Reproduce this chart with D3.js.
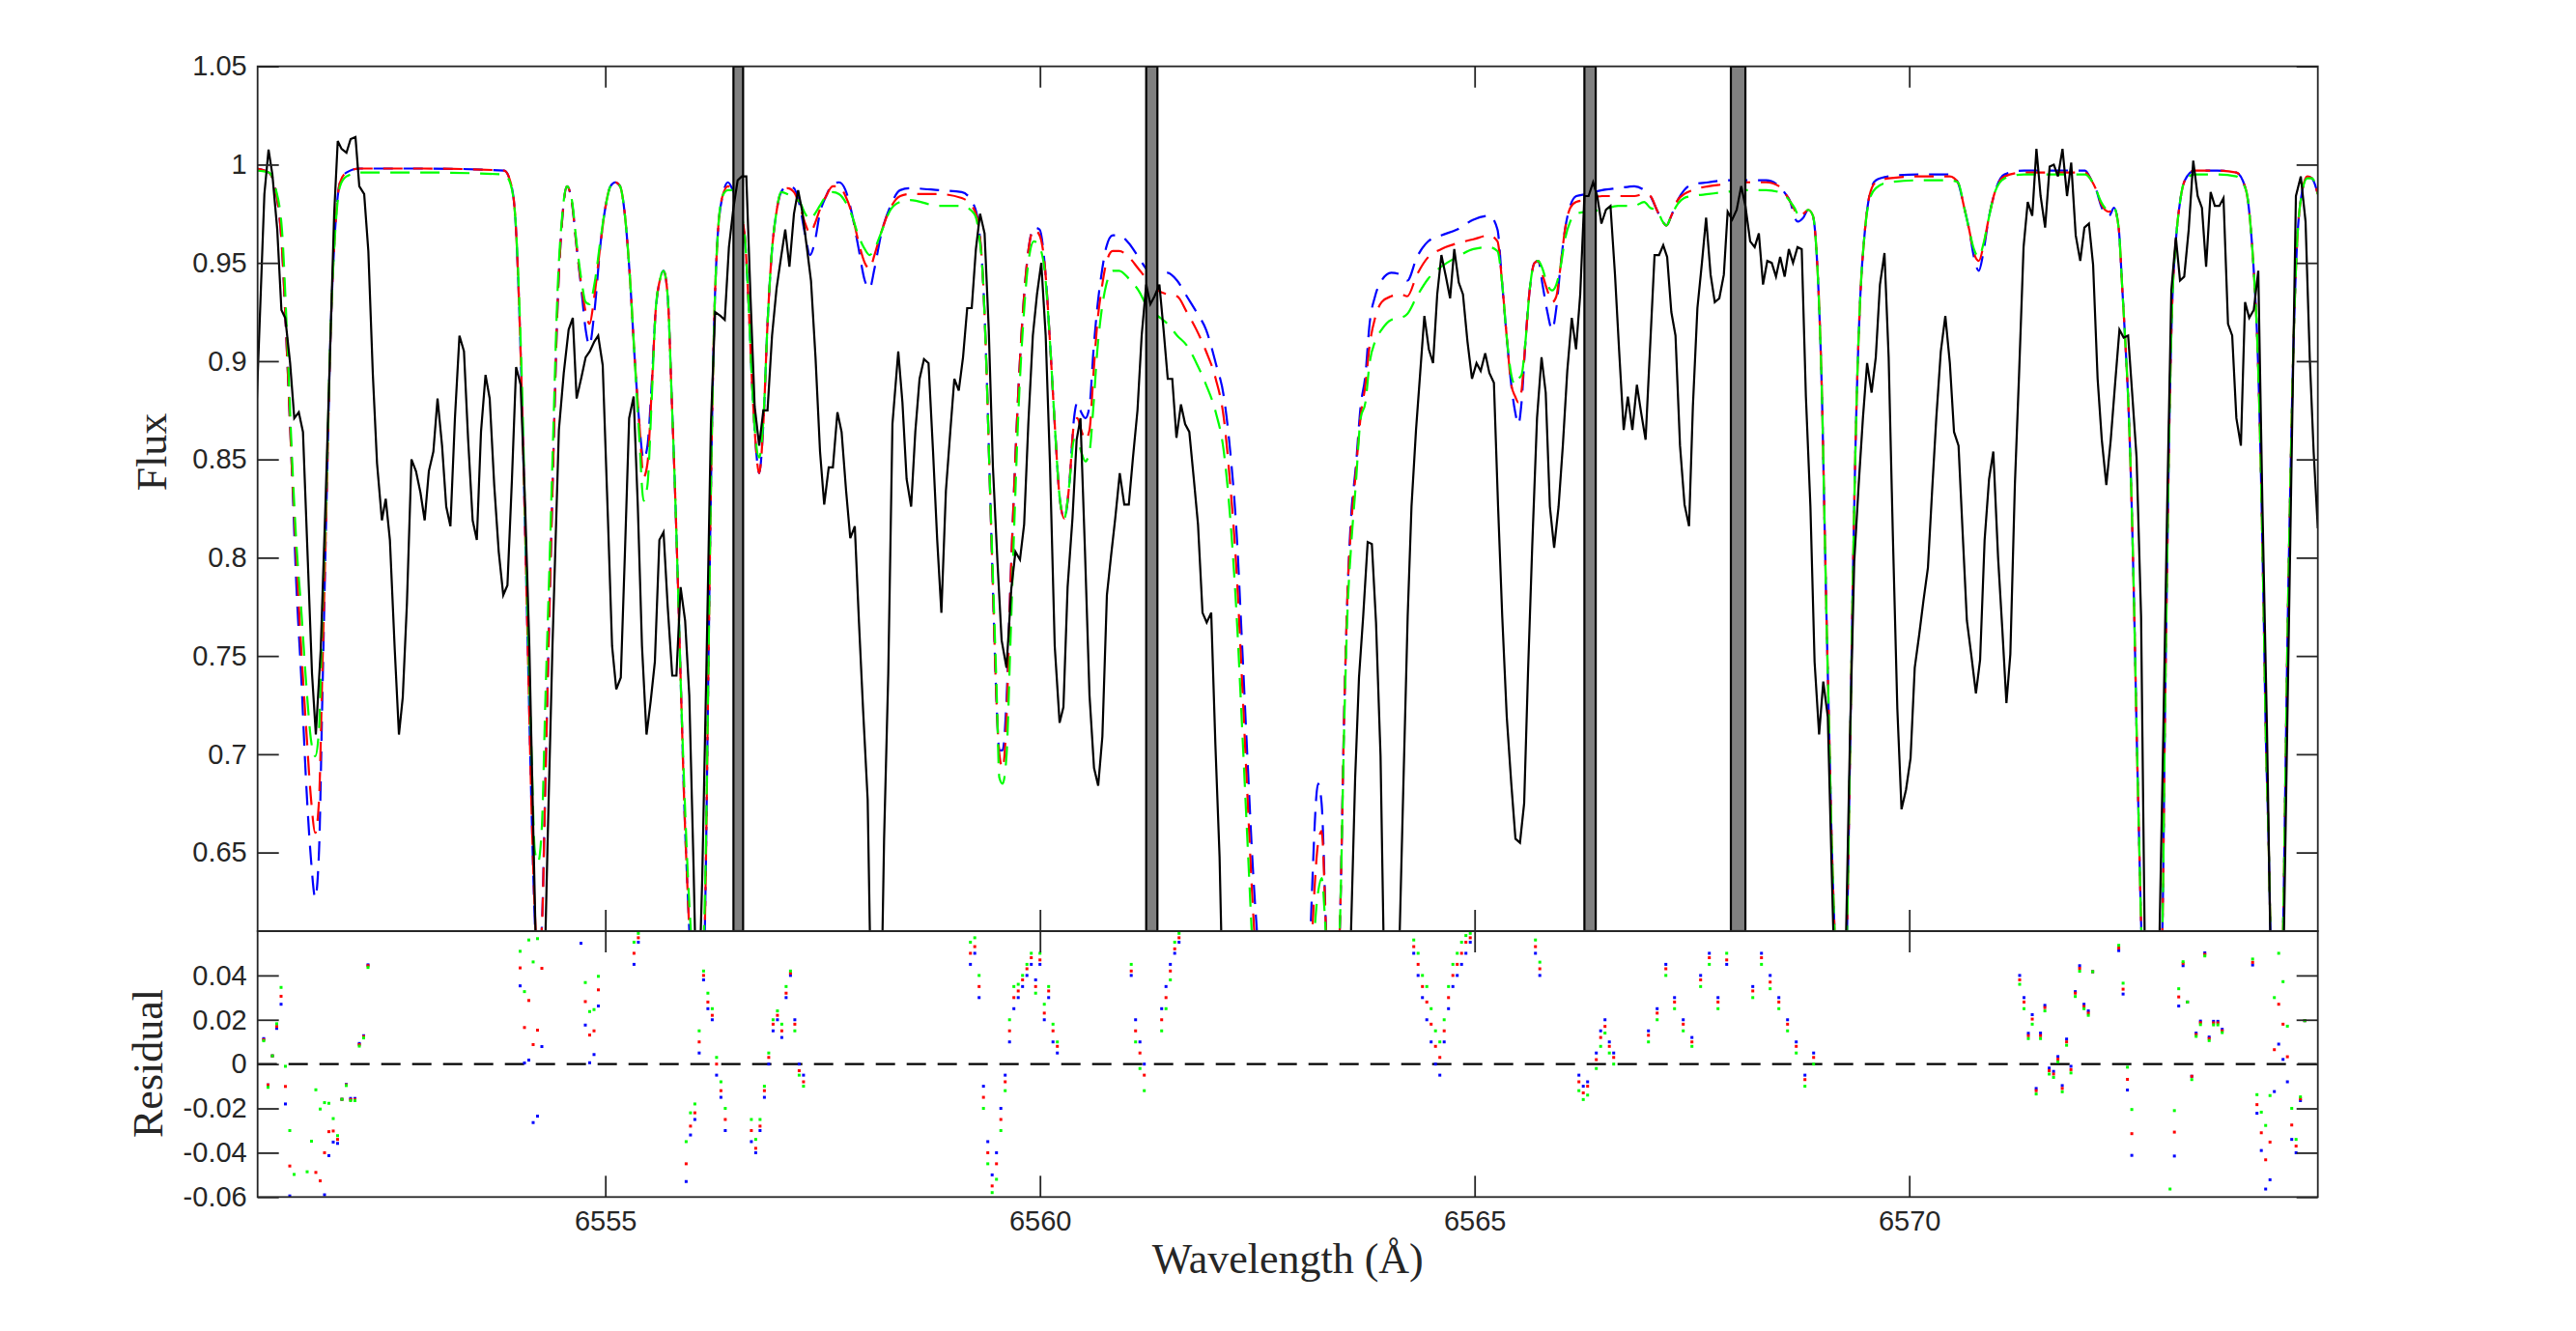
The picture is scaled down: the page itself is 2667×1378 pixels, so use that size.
<!DOCTYPE html>
<meta charset="utf-8">
<head>
  <meta charset="utf-8">
  <script src="https://d3js.org/d3.v7.min.js"></script>
  <style>
    body { margin: 0; background: #fff; }
    svg { display: block; }
  </style>
</head>
<body>
<svg id="chart" width="2667" height="1378"></svg>
<script>
// observed spectrum [wavelength, flux]; points under 0.61 sit below the plot window
var obsSpectrum = [
  [6550.99,0.879],[6551.078,0.985],[6551.126,1.0076],[6551.17,0.995],[6551.226,0.967],[6551.274,0.926],[6551.318,0.922],[6551.374,0.899],[6551.422,0.871],[6551.474,0.874],
  [6551.522,0.864],[6551.578,0.798],[6551.626,0.741],[6551.67,0.710],[6551.726,0.753],[6551.78,0.826],[6551.837,0.910],[6551.881,0.975],[6551.922,1.012],[6551.966,1.008],
  [6552.022,1.006],[6552.07,1.013],[6552.126,1.014],[6552.17,0.989],[6552.226,0.985],[6552.274,0.956],[6552.326,0.893],[6552.374,0.848],[6552.43,0.819],[6552.474,0.830],
  [6552.522,0.809],[6552.578,0.753],[6552.626,0.710],[6552.67,0.729],[6552.718,0.777],[6552.77,0.850],[6552.822,0.844],[6552.874,0.833],[6552.922,0.819],[6552.97,0.844],
  [6553.022,0.854],[6553.07,0.881],[6553.122,0.857],[6553.17,0.826],[6553.218,0.816],[6553.27,0.871],[6553.322,0.913],[6553.374,0.905],[6553.422,0.860],[6553.474,0.819],
  [6553.522,0.809],[6553.57,0.864],[6553.622,0.893],[6553.67,0.881],[6553.722,0.837],[6553.774,0.803],[6553.826,0.781],[6553.874,0.786],[6553.926,0.840],[6553.974,0.897],
  [6554.026,0.888],[6554.078,0.826],[6554.126,0.755],[6554.178,0.648],[6554.226,0.55],[6554.281,0.55],[6554.337,0.657],[6554.392,0.755],[6554.466,0.865],[6554.522,0.894],
  [6554.578,0.916],[6554.626,0.922],[6554.67,0.881],[6554.726,0.892],[6554.774,0.902],[6554.822,0.905],[6554.874,0.910],[6554.918,0.913],[6554.97,0.898],[6555.03,0.820],
  [6555.078,0.755],[6555.126,0.733],[6555.178,0.739],[6555.226,0.803],[6555.274,0.871],[6555.326,0.882],[6555.374,0.826],[6555.422,0.755],[6555.474,0.710],[6555.522,0.727],
  [6555.57,0.747],[6555.622,0.809],[6555.67,0.813],[6555.718,0.775],[6555.77,0.740],[6555.818,0.740],[6555.866,0.785],[6555.918,0.768],[6555.966,0.730],[6556.015,0.643],
  [6556.06,0.55],[6556.115,0.637],[6556.163,0.744],[6556.215,0.868],[6556.263,0.925],[6556.326,0.923],[6556.374,0.921],[6556.422,0.958],[6556.474,0.978],[6556.522,0.992],
  [6556.57,0.994],[6556.622,0.994],[6556.67,0.933],[6556.718,0.877],[6556.77,0.857],[6556.818,0.875],[6556.866,0.875],[6556.918,0.913],[6556.97,0.937],[6557.022,0.953],
  [6557.07,0.967],[6557.118,0.948],[6557.17,0.975],[6557.218,0.987],[6557.266,0.976],[6557.318,0.958],[6557.366,0.941],[6557.418,0.902],[6557.47,0.854],[6557.518,0.827],
  [6557.57,0.846],[6557.618,0.846],[6557.67,0.874],[6557.718,0.864],[6557.77,0.834],[6557.818,0.810],[6557.87,0.816],[6557.918,0.767],[6557.966,0.722],[6558.018,0.677],
  [6558.066,0.55],[6558.118,0.55],[6558.166,0.55],[6558.207,0.657],[6558.255,0.741],[6558.303,0.868],[6558.37,0.905],[6558.418,0.879],[6558.466,0.840],[6558.518,0.826],
  [6558.566,0.864],[6558.615,0.891],[6558.666,0.901],[6558.718,0.899],[6558.77,0.854],[6558.818,0.809],[6558.866,0.772],[6558.918,0.834],[6558.97,0.865],[6559.015,0.891],
  [6559.066,0.885],[6559.115,0.902],[6559.163,0.927],[6559.215,0.927],[6559.263,0.957],[6559.311,0.975],[6559.363,0.965],[6559.411,0.916],[6559.459,0.846],[6559.511,0.798],
  [6559.559,0.758],[6559.615,0.744],[6559.67,0.784],[6559.718,0.803],[6559.77,0.799],[6559.818,0.817],[6559.866,0.868],[6559.918,0.913],[6559.966,0.934],[6560.015,0.950],
  [6560.066,0.913],[6560.115,0.848],[6560.17,0.755],[6560.226,0.716],[6560.27,0.724],[6560.318,0.785],[6560.374,0.820],[6560.422,0.860],[6560.466,0.871],[6560.518,0.803],
  [6560.57,0.730],[6560.622,0.693],[6560.67,0.684],[6560.718,0.709],[6560.77,0.781],[6560.818,0.801],[6560.866,0.820],[6560.918,0.843],[6560.97,0.827],[6561.022,0.827],
  [6561.07,0.851],[6561.122,0.875],[6561.17,0.913],[6561.222,0.939],[6561.27,0.929],[6561.318,0.933],[6561.374,0.939],[6561.422,0.916],[6561.47,0.891],[6561.522,0.891],
  [6561.57,0.861],[6561.622,0.878],[6561.67,0.868],[6561.718,0.864],[6561.77,0.840],[6561.818,0.817],[6561.87,0.772],[6561.918,0.767],[6561.97,0.772],[6562.018,0.705],
  [6562.066,0.648],[6562.115,0.55],[6562.6,0.55],[6563.1,0.55],[6563.56,0.58],[6563.626,0.688],[6563.67,0.739],[6563.718,0.770],[6563.77,0.808],[6563.818,0.807],
  [6563.866,0.767],[6563.918,0.699],[6563.955,0.60],[6564.0,0.55],[6564.1,0.55],[6564.133,0.60],[6564.181,0.685],[6564.23,0.770],[6564.274,0.826],[6564.326,0.865],
  [6564.374,0.894],[6564.422,0.923],[6564.474,0.906],[6564.522,0.899],[6564.57,0.934],[6564.618,0.954],[6564.67,0.943],[6564.718,0.932],[6564.766,0.957],[6564.818,0.940],
  [6564.866,0.934],[6564.918,0.910],[6564.97,0.891],[6565.022,0.899],[6565.07,0.895],[6565.122,0.904],[6565.17,0.894],[6565.222,0.889],[6565.27,0.826],[6565.318,0.770],
  [6565.37,0.719],[6565.422,0.685],[6565.47,0.657],[6565.522,0.655],[6565.57,0.675],[6565.614,0.741],[6565.663,0.806],[6565.718,0.871],[6565.77,0.902],[6565.818,0.884],
  [6565.866,0.826],[6565.915,0.805],[6565.966,0.826],[6566.015,0.857],[6566.066,0.895],[6566.118,0.922],[6566.167,0.906],[6566.215,0.934],[6566.263,0.984],[6566.311,0.984],
  [6566.363,0.991],[6566.411,0.984],[6566.459,0.970],[6566.511,0.977],[6566.563,0.979],[6566.615,0.944],[6566.663,0.905],[6566.715,0.865],[6566.763,0.882],[6566.815,0.865],
  [6566.867,0.888],[6566.915,0.874],[6566.967,0.860],[6567.022,0.910],[6567.07,0.954],[6567.122,0.954],[6567.17,0.959],[6567.215,0.953],[6567.263,0.925],[6567.311,0.913],
  [6567.363,0.857],[6567.415,0.827],[6567.467,0.816],[6567.511,0.877],[6567.563,0.927],[6567.615,0.950],[6567.663,0.973],[6567.715,0.944],[6567.763,0.930],[6567.815,0.932],
  [6567.867,0.944],[6567.911,0.976],[6567.963,0.972],[6568.015,0.977],[6568.067,0.989],[6568.115,0.979],[6568.17,0.961],[6568.222,0.958],[6568.27,0.965],[6568.318,0.939],
  [6568.367,0.951],[6568.418,0.950],[6568.467,0.943],[6568.515,0.953],[6568.567,0.943],[6568.615,0.957],[6568.663,0.950],[6568.715,0.958],[6568.763,0.957],[6568.811,0.882],
  [6568.863,0.826],[6568.911,0.747],[6568.963,0.710],[6569.011,0.737],[6569.063,0.719],[6569.115,0.629],[6569.163,0.55],[6569.22,0.55],[6569.274,0.61],[6569.318,0.708],
  [6569.367,0.798],[6569.418,0.837],[6569.467,0.871],[6569.515,0.899],[6569.567,0.884],[6569.615,0.902],[6569.663,0.939],[6569.715,0.955],[6569.763,0.902],[6569.811,0.812],
  [6569.863,0.723],[6569.911,0.672],[6569.963,0.682],[6570.015,0.698],[6570.063,0.744],[6570.115,0.761],[6570.163,0.778],[6570.215,0.795],[6570.263,0.834],[6570.311,0.871],
  [6570.363,0.905],[6570.415,0.923],[6570.467,0.899],[6570.515,0.864],[6570.567,0.857],[6570.615,0.812],[6570.663,0.768],[6570.715,0.750],[6570.767,0.731],[6570.815,0.748],
  [6570.867,0.809],[6570.918,0.840],[6570.967,0.854],[6571.022,0.800],[6571.07,0.764],[6571.118,0.726],[6571.163,0.751],[6571.215,0.837],[6571.263,0.893],[6571.315,0.958],
  [6571.363,0.981],[6571.415,0.974],[6571.463,1.008],[6571.511,0.984],[6571.563,0.968],[6571.615,0.999],[6571.663,1.000],[6571.711,0.994],[6571.763,1.008],[6571.815,0.984],
  [6571.863,1.001],[6571.915,0.964],[6571.967,0.951],[6572.015,0.968],[6572.067,0.970],[6572.115,0.949],[6572.167,0.891],[6572.215,0.860],[6572.267,0.837],[6572.318,0.860],
  [6572.367,0.888],[6572.418,0.916],[6572.467,0.912],[6572.518,0.913],[6572.567,0.882],[6572.615,0.851],[6572.667,0.770],[6572.715,0.58],[6572.8,0.55],[6572.867,0.58],
  [6572.918,0.699],[6572.967,0.826],[6573.015,0.936],[6573.067,0.963],[6573.115,0.941],[6573.163,0.943],[6573.215,0.967],[6573.267,1.002],[6573.318,0.984],[6573.367,0.978],
  [6573.415,0.948],[6573.467,0.986],[6573.515,0.979],[6573.567,0.979],[6573.615,0.983],[6573.667,0.919],[6573.715,0.913],[6573.763,0.871],[6573.815,0.857],[6573.863,0.930],
  [6573.911,0.922],[6573.963,0.926],[6574.015,0.946],[6574.063,0.826],[6574.115,0.713],[6574.163,0.58],[6574.23,0.55],[6574.3,0.58],[6574.348,0.713],[6574.4,0.854],
  [6574.448,0.984],[6574.504,0.994],[6574.559,0.971],[6574.607,0.902],[6574.652,0.854],[6574.7,0.815]
];

// model grid and the three model fluxes
var modelWave = [
  6550.99,6551.13,6551.207,6551.28,6551.337,6551.392,6551.448,6551.5,6551.559,6551.615,
  6551.663,6551.707,6551.744,6551.792,6551.837,6551.892,6551.948,6552.022,6552.17,6552.9,
  6553.837,6553.91,6553.966,6554.0,6554.04,6554.078,6554.115,6554.152,6554.189,6554.226,
  6554.27,6554.31,6554.355,6554.4,6554.448,6554.504,6554.559,6554.615,6554.67,6554.726,
  6554.774,6554.818,6554.874,6554.948,6555.0,6555.059,6555.115,6555.17,6555.226,6555.281,
  6555.337,6555.392,6555.44,6555.485,6555.533,6555.578,6555.626,6555.67,6555.718,6555.763,
  6555.8,6555.837,6555.874,6555.911,6555.948,6556.0,6556.06,6556.11,6556.152,6556.181,
  6556.207,6556.244,6556.289,6556.348,6556.411,6556.467,6556.596,6556.644,6556.689,6556.726,
  6556.77,6556.818,6556.866,6556.911,6556.966,6557.022,6557.096,6557.17,6557.237,6557.3,
  6557.355,6557.411,6557.467,6557.54,6557.615,6557.689,6557.763,6557.837,6557.911,6557.985,
  6558.04,6558.096,6558.17,6558.281,6558.392,6558.503,6558.837,6559.1,6559.244,6559.3,
  6559.348,6559.385,6559.422,6559.459,6559.5,6559.533,6559.57,6559.615,6559.659,6559.707,
  6559.755,6559.807,6559.866,6559.93,6559.996,6560.059,6560.115,6560.17,6560.226,6560.281,
  6560.337,6560.392,6560.43,6560.474,6560.522,6560.57,6560.615,6560.659,6560.707,6560.763,
  6560.837,6560.911,6561.022,6561.133,6561.244,6561.355,6561.467,6561.578,6561.689,6561.8,
  6561.911,6562.022,6562.115,6562.189,6562.263,6562.326,6562.392,6562.448,6562.496,6562.6,
  6562.9,6563.08,6563.2,6563.24,6563.3,6563.37,6563.448,6563.503,6563.54,6563.578,
  6563.633,6563.689,6563.744,6563.792,6563.855,6563.93,6564.04,6564.152,6564.226,6564.337,
  6564.467,6564.615,6564.8,6564.985,6565.17,6565.263,6565.318,6565.374,6565.422,6565.467,
  6565.504,6565.54,6565.585,6565.633,6565.689,6565.733,6565.781,6565.837,6565.892,6565.94,
  6565.985,6566.04,6566.1,6566.17,6566.281,6566.467,6566.652,6566.837,6566.95,6567.022,
  6567.096,6567.163,6567.207,6567.263,6567.337,6567.411,6567.504,6567.689,6567.874,6568.133,
  6568.355,6568.504,6568.578,6568.633,6568.681,6568.718,6568.781,6568.837,6568.892,6568.93,
  6568.966,6568.996,6569.022,6569.048,6569.078,6569.107,6569.141,6569.22,6569.28,6569.318,
  6569.355,6569.393,6569.437,6569.485,6569.541,6569.615,6569.763,6570.1,6570.467,6570.559,
  6570.633,6570.689,6570.744,6570.8,6570.855,6570.911,6570.985,6571.096,6571.318,6572.022,
  6572.096,6572.152,6572.207,6572.252,6572.3,6572.355,6572.411,6572.448,6572.485,6572.522,
  6572.559,6572.589,6572.615,6572.644,6572.67,6572.79,6572.911,6572.94,6572.967,6572.992,
  6573.022,6573.067,6573.115,6573.17,6573.281,6573.541,6573.763,6573.874,6573.93,6573.966,
  6574.004,6574.04,6574.078,6574.1,6574.133,6574.155,6574.23,6574.3,6574.326,6574.355,
  6574.385,6574.418,6574.459,6574.511,6574.578,6574.633,6574.7
];
var modelBlue = [
  .998,.996,.987,.958,.905,.848,.784,.741,.685,.646,
  .627,.651,.727,.826,.910,.967,.991,.996,.998,.998,
  .997,.991,.972,.939,.882,.812,.741,.671,.615,.590,
  .612,.685,.770,.848,.925,.972,.989,.981,.958,.936,
  .916,.908,.925,.961,.978,.989,.991,.989,.974,.944,
  .902,.868,.850,.857,.888,.925,.941,.946,.933,.882,
  .837,.784,.727,.671,.629,.580,.550,.560,.629,.727,
  .812,.905,.961,.984,.991,.987,.967,.933,.888,.860,
  .843,.868,.919,.953,.975,.986,.989,.988,.979,.964,
  .954,.961,.975,.984,.990,.991,.987,.975,.958,.941,
  .937,.947,.964,.979,.987,.988,.987,.986,.979,.967,
  .939,.896,.840,.784,.727,.702,.702,.727,.784,.840,
  .888,.927,.956,.968,.967,.947,.910,.868,.831,.820,
  .837,.871,.879,.874,.871,.877,.905,.927,.944,.958,
  .964,.964,.960,.953,.946,.944,.945,.941,.933,.925,
  .916,.899,.882,.854,.812,.755,.693,.643,.610,.560,
  .520,.580,.685,.675,.600,.560,.610,.727,.784,.820,
  .846,.877,.893,.919,.933,.941,.945,.944,.941,.953,
  .961,.964,.967,.972,.974,.967,.939,.910,.888,.874,
  .868,.879,.910,.936,.950,.951,.939,.925,.916,.927,
  .947,.967,.979,.984,.985,.987,.988,.989,.987,.984,
  .977,.971,.969,.974,.982,.987,.990,.991,.992,.992,
  .992,.989,.985,.981,.973,.971,.973,.977,.974,.958,
  .925,.882,.826,.770,.713,.657,.610,.540,.600,.699,
  .798,.877,.933,.964,.984,.992,.994,.995,.995,.991,
  .978,.967,.953,.946,.956,.972,.986,.995,.997,.997,
  .992,.987,.979,.975,.974,.978,.967,.939,.910,.877,
  .826,.770,.713,.657,.610,.530,.610,.713,.798,.868,
  .925,.961,.981,.992,.997,.997,.996,.987,.967,.944,
  .910,.854,.770,.713,.657,.610,.540,.610,.685,.770,
  .840,.905,.958,.984,.994,.993,.985
];
var modelRed = [
  .998,.996,.987,.958,.905,.848,.798,.755,.713,.677,
  .660,.677,.741,.826,.910,.967,.991,.996,.998,.998,
  .997,.991,.972,.939,.882,.812,.741,.671,.620,.595,
  .612,.685,.770,.848,.925,.972,.989,.981,.958,.938,
  .925,.919,.933,.961,.978,.989,.991,.989,.974,.944,
  .902,.868,.841,.848,.885,.925,.941,.946,.933,.882,
  .837,.784,.727,.671,.629,.580,.560,.570,.629,.727,
  .812,.905,.961,.984,.989,.987,.967,.933,.888,.860,
  .843,.868,.919,.953,.975,.986,.988,.986,.979,.970,
  .965,.970,.977,.984,.989,.989,.984,.975,.961,.950,
  .947,.954,.965,.978,.984,.985,.985,.983,.977,.967,
  .939,.896,.840,.784,.727,.700,.693,.718,.784,.840,
  .888,.927,.956,.967,.964,.947,.910,.868,.831,.820,
  .837,.868,.871,.865,.860,.865,.893,.919,.936,.950,
  .956,.956,.953,.947,.941,.936,.934,.933,.925,.916,
  .905,.891,.871,.837,.792,.736,.674,.623,.590,.550,
  .520,.570,.655,.661,.600,.560,.610,.727,.784,.815,
  .843,.872,.888,.908,.922,.930,.933,.934,.933,.944,
  .953,.957,.960,.962,.964,.961,.939,.910,.888,.882,
  .879,.885,.910,.936,.950,.951,.944,.936,.930,.933,
  .947,.967,.978,.981,.982,.984,.984,.984,.985,.984,
  .977,.971,.969,.974,.982,.985,.987,.989,.990,.991,
  .991,.989,.985,.981,.977,.974,.975,.977,.974,.958,
  .925,.882,.826,.770,.713,.657,.610,.540,.600,.699,
  .798,.877,.933,.964,.984,.991,.993,.994,.994,.991,
  .978,.967,.955,.951,.959,.972,.986,.994,.996,.996,
  .992,.987,.980,.977,.976,.978,.967,.939,.910,.877,
  .826,.770,.713,.657,.610,.530,.610,.713,.798,.868,
  .925,.961,.981,.992,.997,.997,.996,.987,.967,.944,
  .910,.854,.770,.713,.657,.610,.540,.610,.685,.770,
  .840,.905,.958,.984,.994,.993,.985
];
var modelGreen = [
  .997,.996,.988,.967,.915,.855,.806,.775,.736,.707,
  .699,.713,.770,.835,.912,.965,.989,.994,.996,.996,
  .995,.990,.972,.942,.890,.820,.755,.699,.651,.645,
  .663,.727,.792,.862,.933,.974,.989,.982,.960,.941,
  .930,.929,.939,.963,.978,.989,.991,.989,.974,.944,
  .902,.860,.829,.837,.880,.925,.941,.946,.933,.882,
  .837,.784,.727,.680,.640,.600,.580,.590,.640,.727,
  .812,.905,.961,.984,.987,.987,.967,.933,.888,.862,
  .851,.870,.919,.953,.975,.986,.985,.983,.981,.975,
  .972,.975,.979,.984,.986,.985,.981,.974,.964,.957,
  .954,.957,.965,.977,.981,.982,.979,.979,.975,.964,
  .939,.896,.840,.790,.735,.688,.685,.699,.755,.820,
  .877,.919,.950,.961,.958,.944,.910,.868,.831,.820,
  .837,.860,.860,.854,.849,.854,.877,.905,.925,.939,
  .946,.946,.942,.936,.927,.923,.919,.913,.908,.899,
  .888,.874,.854,.820,.770,.713,.651,.600,.570,.540,
  .520,.560,.630,.637,.600,.560,.610,.720,.775,.805,
  .837,.871,.879,.899,.910,.916,.921,.922,.924,.933,
  .942,.948,.953,.957,.958,.956,.939,.910,.893,.888,
  .891,.893,.910,.936,.950,.951,.947,.939,.936,.939,
  .947,.962,.971,.975,.976,.977,.979,.979,.981,.978,
  .977,.971,.969,.974,.980,.983,.984,.985,.986,.987,
  .987,.986,.984,.981,.978,.975,.975,.977,.974,.958,
  .925,.882,.826,.770,.713,.657,.610,.540,.600,.699,
  .798,.877,.933,.964,.982,.988,.991,.992,.992,.991,
  .978,.967,.957,.953,.960,.972,.986,.993,.995,.995,
  .992,.987,.981,.978,.977,.978,.967,.939,.910,.877,
  .826,.770,.713,.657,.610,.530,.610,.713,.798,.868,
  .925,.961,.981,.992,.995,.995,.994,.987,.967,.944,
  .910,.854,.770,.713,.657,.610,.540,.610,.685,.770,
  .840,.905,.958,.984,.993,.993,.985
];

// masked wavelength bands [start, end]
var maskBands = [[6556.474,6556.585],[6561.222,6561.351],[6566.263,6566.393],[6567.948,6568.115]];

// residuals of the three models (null = outside the plotted range)
var resWave = [
  6551.07,6551.12,6551.17,6551.22,6551.27,6551.32,6551.37,6551.42,6551.57,6551.62,
  6551.67,6551.72,6551.77,6551.82,6551.87,6551.92,6551.97,6552.02,6552.07,6552.12,
  6552.17,6552.22,6552.27,6554.02,6554.07,6554.12,6554.17,6554.22,6554.27,6554.72,
  6554.77,6554.82,6554.87,6554.92,6555.33,6555.38,6555.93,6555.98,6556.03,6556.08,
  6556.13,6556.18,6556.23,6556.28,6556.33,6556.38,6556.68,6556.73,6556.78,6556.83,
  6556.88,6556.93,6556.98,6557.03,6557.08,6557.13,6557.18,6557.23,6557.28,6559.2,
  6559.25,6559.3,6559.35,6559.4,6559.45,6559.5,6559.55,6559.6,6559.65,6559.7,
  6559.75,6559.8,6559.85,6559.9,6559.95,6560.0,6560.05,6560.1,6560.15,6560.2,
  6561.05,6561.1,6561.15,6561.2,6561.4,6561.45,6561.5,6561.55,6561.6,6564.3,
  6564.35,6564.4,6564.45,6564.5,6564.55,6564.6,6564.65,6564.7,6564.75,6564.8,
  6564.85,6564.9,6564.95,6565.7,6565.75,6566.2,6566.25,6566.3,6566.4,6566.45,
  6566.5,6566.55,6566.6,6567.0,6567.1,6567.2,6567.3,6567.4,6567.5,6567.6,
  6567.7,6567.8,6567.9,6568.2,6568.3,6568.4,6568.5,6568.6,6568.7,6568.8,
  6568.9,6571.27,6571.32,6571.37,6571.415,6571.46,6571.51,6571.56,6571.61,6571.66,
  6571.71,6571.76,6571.81,6571.86,6571.91,6571.96,6572.01,6572.06,6572.11,6572.41,
  6572.46,6572.51,6572.56,6573.0,6573.05,6573.1,6573.15,6573.2,6573.25,6573.3,
  6573.35,6573.4,6573.45,6573.5,6573.55,6573.6,6573.95,6574.0,6574.05,6574.1,
  6574.15,6574.2,6574.25,6574.3,6574.35,6574.4,6574.45,6574.5,6574.55
];
var resBlue = [
  .0115,-.0094,.0037,.0161,.027,-.018,-.0595,null,null,null,
  null,null,-.059,-.0413,-.0352,-.0358,-.0159,-.0092,-.0155,-.0155,
  .0093,.0128,.0448,.0353,.0005,.0018,-.0264,-.0235,.0079,.0545,
  .0176,.0006,.0043,.0262,.045,.055,-.053,-.032,-.025,.005,
  .038,.025,.020,-.005,-.015,-.030,-.035,-.040,-.030,-.015,
  .000,.015,.020,.012,.030,.040,.020,.000,-.005,.045,
  .050,.030,-.010,-.035,-.050,-.040,-.020,-.005,.010,.025,
  .030,.035,.040,.045,.038,.045,.020,.030,.010,.005,
  .040,.020,.010,.000,.025,.035,.045,.050,.055,.050,
  .040,.030,.020,.010,.000,-.005,.010,.025,.035,.040,
  .045,.050,.055,.050,.040,-.005,-.010,-.008,.005,.015,
  .020,.010,.005,.015,.025,.045,.030,.020,.012,.040,
  .050,.030,.045,.035,.050,.040,.030,.020,.010,-.005,
  .005,.040,.030,.0139,.0223,-.011,.014,.0265,-.0018,-.0033,
  .0034,-.0097,.0113,-.001,.0327,.0444,.027,.024,.0417,.0512,
  .0316,-.0117,-.0412,null,-.0415,.0262,.0444,.028,-.0055,.014,
  .0194,.0502,.0122,.0193,.0193,.0157,.0447,-.0222,-.039,-.0564,
  -.0522,-.0124,.009,.0021,-.008,-.034,-.040,-.0165,.0196
];
var resRed = [
  .011,-.0094,.0037,.017,.0306,-.0101,-.046,null,null,null,
  -.0489,-.0527,-.040,-.0305,-.0302,-.034,-.0159,-.0094,-.016,-.016,
  .0088,.0124,.0444,.0434,.0165,.0287,.0088,.0153,.0432,null,
  .0282,.0131,.015,.0335,.05,.057,-.045,-.028,-.022,.010,
  .040,.028,.022,.000,-.012,-.025,-.030,-.038,-.028,-.012,
  .003,.018,.022,.015,.032,.041,.018,-.003,-.008,.050,
  .053,.035,-.015,-.040,-.055,-.045,-.025,-.008,.015,.030,
  .033,.038,.043,.048,.035,.047,.023,.033,.015,.008,
  .042,.015,.005,-.005,.020,.030,.042,.052,.057,.053,
  .045,.035,.028,.018,.008,.003,.015,.030,.040,.045,
  .050,.055,.057,.053,.043,-.008,-.013,-.010,.002,.012,
  .017,.008,.003,.013,.023,.043,.028,.018,.010,.038,
  .048,.028,.047,.033,.048,.037,.028,.018,.008,-.007,
  .003,.038,.028,.0128,.0203,-.012,.0128,.0255,-.003,-.0045,
  .0022,-.011,.010,-.0025,.032,.0432,.026,.023,.0417,.0524,
  .0338,-.0069,-.0314,null,-.0307,.0303,.0455,.028,-.0055,.0133,
  .0187,.0495,.0115,.0186,.0186,.015,.0459,-.0183,-.031,-.0432,
  -.0352,.0065,.027,.018,.0033,-.0275,-.037,-.0157,.0196
];
var resGreen = [
  .0105,-.0105,.0037,.0182,.0346,-.001,-.030,-.0498,-.0486,-.0348,
  -.0116,-.0203,-.0174,-.0177,-.0246,-.0323,-.0159,-.0097,-.0165,-.0165,
  .0081,.0118,.0436,.0509,.0327,.056,.0461,.0566,null,null,
  .0368,.0237,.0246,.0396,.055,.059,-.035,-.022,-.018,.015,
  .042,.032,.025,.003,-.008,-.020,-.025,-.034,-.025,-.010,
  .005,.020,.024,.018,.035,.042,.015,-.005,-.010,.055,
  .057,.040,-.020,-.045,-.058,-.052,-.030,-.012,.020,.035,
  .036,.040,.045,.050,.032,.050,.027,.035,.018,.010,
  .045,.010,-.002,-.012,.015,.025,.038,.055,.059,.056,
  .050,.040,.035,.025,.015,.010,.020,.035,.045,.050,
  .055,.058,.059,.056,.046,-.012,-.016,-.014,-.002,.008,
  .014,.005,.000,.010,.020,.040,.025,.015,.008,.035,
  .045,.025,.050,.030,.045,.034,.025,.015,.005,-.010,
  .000,.036,.025,.0115,.018,-.0135,.0115,.024,-.0045,-.006,
  .001,-.0125,.0085,-.004,.0305,.0419,.025,.022,.0417,.0536,
  .0365,-.0014,-.0205,-.0564,-.021,.034,.0462,.028,-.007,.0125,
  .0178,.0488,.0106,.0177,.0177,.0142,.0474,-.0138,-.0217,-.0277,
  -.0142,.030,.050,.0372,.0171,-.020,-.034,-.0148,.0196
];

var fluxTicks = [0.65, 0.7, 0.75, 0.8, 0.85, 0.9, 0.95, 1, 1.05];
var resTicks = [-0.06, -0.04, -0.02, 0, 0.02, 0.04];
var waveTicks = [6555, 6560, 6565, 6570];

var svg = d3.select("#chart");
// panel edges in pixels
var plotLeft = 266.7, plotRight = 2399.7, plotTop = 68.7, plotMid = 964, plotBottom = 1239.3;
var axisColor = "#262626";
var tickFont = "'Liberation Sans', Arial, Helvetica, sans-serif";
var labelFont = "'Liberation Serif', 'Times New Roman', serif";

var x = d3.scaleLinear().domain([6551, 6574.7]).range([plotLeft, plotRight]);
var yTop = d3.scaleLinear().domain([0.61, 1.05]).range([plotMid, plotTop]);
var yRes = d3.scaleLinear().domain([-0.06, 0.06]).range([plotBottom, plotMid]);

var defs = svg.append("defs");
defs.append("clipPath").attr("id", "clipTop").append("rect")
  .attr("x", plotLeft).attr("y", plotTop).attr("width", plotRight - plotLeft).attr("height", plotMid - plotTop);
defs.append("clipPath").attr("id", "clipRes").append("rect")
  .attr("x", plotLeft).attr("y", plotMid).attr("width", plotRight - plotLeft).attr("height", plotBottom - plotMid);

// ---- top panel ----
var topG = svg.append("g").attr("clip-path", "url(#clipTop)");

var models = [
  {name: "blue", color: "#0000ff", vals: modelBlue},
  {name: "red", color: "#ff0000", vals: modelRed},
  {name: "green", color: "#00ff00", vals: modelGreen}
];
var modelLine = d3.line()
  .x(function(d) { return x(d[0]); })
  .y(function(d) { return yTop(d[1]); })
  .curve(d3.curveMonotoneX);

models.forEach(function(m) {
  var pts = modelWave.map(function(w, i) { return [w, m.vals[i]]; });
  topG.append("path")
    .datum(pts)
    .attr("d", modelLine)
    .attr("fill", "none")
    .attr("stroke", m.color)
    .attr("stroke-width", 2.2)
    .attr("stroke-dasharray", "20,11");
});

// masked bands
topG.selectAll("rect.band")
  .data(maskBands)
  .enter()
  .append("rect")
  .attr("class", "band")
  .attr("x", function(d) { return x(d[0]); })
  .attr("width", function(d) { return x(d[1]) - x(d[0]); })
  .attr("y", plotTop)
  .attr("height", plotMid - plotTop)
  .attr("fill", "#808080")
  .attr("stroke", "#000")
  .attr("stroke-width", 2.2);

var obsLine = d3.line()
  .x(function(d) { return x(d[0]); })
  .y(function(d) { return yTop(d[1]); });
topG.append("path")
  .datum(obsSpectrum)
  .attr("d", obsLine)
  .attr("fill", "none")
  .attr("stroke", "#000")
  .attr("stroke-width", 2.2);

// ---- residual panel ----
var resG = svg.append("g").attr("clip-path", "url(#clipRes)");
resG.append("line")
  .attr("x1", plotLeft).attr("x2", plotRight)
  .attr("y1", yRes(0)).attr("y2", yRes(0))
  .attr("stroke", "#000").attr("stroke-width", 2.2)
  .attr("stroke-dasharray", "20,12");

var resSets = [
  {color: "#0000ff", vals: resBlue},
  {color: "#ff0000", vals: resRed},
  {color: "#00ff00", vals: resGreen}
];
resSets.forEach(function(s) {
  var pts = resWave.map(function(w, i) { return [w, s.vals[i]]; })
    .filter(function(d) { return d[1] !== null; });
  resG.selectAll(null)
    .data(pts)
    .enter()
    .append("rect")
    .attr("x", function(d) { return x(d[0]) - 1.5; })
    .attr("y", function(d) { return yRes(d[1]) - 1.5; })
    .attr("width", 3).attr("height", 3)
    .attr("fill", s.color);
});

// ---- axes ----
function styleAxis(g) {
  g.select(".domain").remove();
  g.selectAll(".tick line").attr("stroke", axisColor).attr("stroke-width", 1.8);
  g.selectAll(".tick text")
    .attr("fill", axisColor)
    .style("font-family", tickFont)
    .style("font-size", "29px");
}
var numFmt = function(d) { return String(+d.toFixed(2)); };

// top panel
svg.append("g").attr("transform", "translate(" + plotLeft + ",0)")
  .call(d3.axisLeft(yTop).tickValues(fluxTicks).tickSizeInner(-22).tickSizeOuter(0).tickPadding(11).tickFormat(numFmt))
  .call(styleAxis);
svg.append("g").attr("transform", "translate(" + plotRight + ",0)")
  .call(d3.axisRight(yTop).tickValues(fluxTicks).tickSizeInner(-22).tickSizeOuter(0).tickFormat(""))
  .call(styleAxis);
svg.append("g").attr("transform", "translate(0," + plotMid + ")")
  .call(d3.axisBottom(x).tickValues(waveTicks).tickSizeInner(-22).tickSizeOuter(0).tickFormat(""))
  .call(styleAxis);
svg.append("g").attr("transform", "translate(0," + plotTop + ")")
  .call(d3.axisTop(x).tickValues(waveTicks).tickSizeInner(-22).tickSizeOuter(0).tickFormat(""))
  .call(styleAxis);

// residual panel
svg.append("g").attr("transform", "translate(" + plotLeft + ",0)")
  .call(d3.axisLeft(yRes).tickValues(resTicks).tickSizeInner(-22).tickSizeOuter(0).tickPadding(11).tickFormat(numFmt))
  .call(styleAxis);
svg.append("g").attr("transform", "translate(" + plotRight + ",0)")
  .call(d3.axisRight(yRes).tickValues(resTicks).tickSizeInner(-22).tickSizeOuter(0).tickFormat(""))
  .call(styleAxis);
svg.append("g").attr("transform", "translate(0," + plotBottom + ")")
  .call(d3.axisBottom(x).tickValues(waveTicks).tickSizeInner(-22).tickSizeOuter(0).tickPadding(14).tickFormat(d3.format("d")))
  .call(styleAxis);
svg.append("g").attr("transform", "translate(0," + plotMid + ")")
  .call(d3.axisTop(x).tickValues(waveTicks).tickSizeInner(-22).tickSizeOuter(0).tickFormat(""))
  .call(styleAxis);

// panel boxes
[[plotTop, plotMid], [plotMid, plotBottom]].forEach(function(p) {
  svg.append("rect")
    .attr("x", plotLeft).attr("y", p[0])
    .attr("width", plotRight - plotLeft).attr("height", p[1] - p[0])
    .attr("fill", "none")
    .attr("stroke", axisColor)
    .attr("stroke-width", 1.8);
});

// axis labels
svg.append("text")
  .attr("x", (plotLeft + plotRight) / 2).attr("y", 1318)
  .attr("text-anchor", "middle")
  .style("font-family", labelFont).style("font-size", "44px")
  .attr("fill", "#262626")
  .text("Wavelength (Å)");
svg.append("text")
  .attr("transform", "translate(172,468) rotate(-90)")
  .attr("text-anchor", "middle")
  .style("font-family", labelFont).style("font-size", "44px")
  .attr("fill", "#262626")
  .text("Flux");
svg.append("text")
  .attr("transform", "translate(168,1101) rotate(-90)")
  .attr("text-anchor", "middle")
  .style("font-family", labelFont).style("font-size", "44px")
  .attr("fill", "#262626")
  .text("Residual");
</script>
</body>
